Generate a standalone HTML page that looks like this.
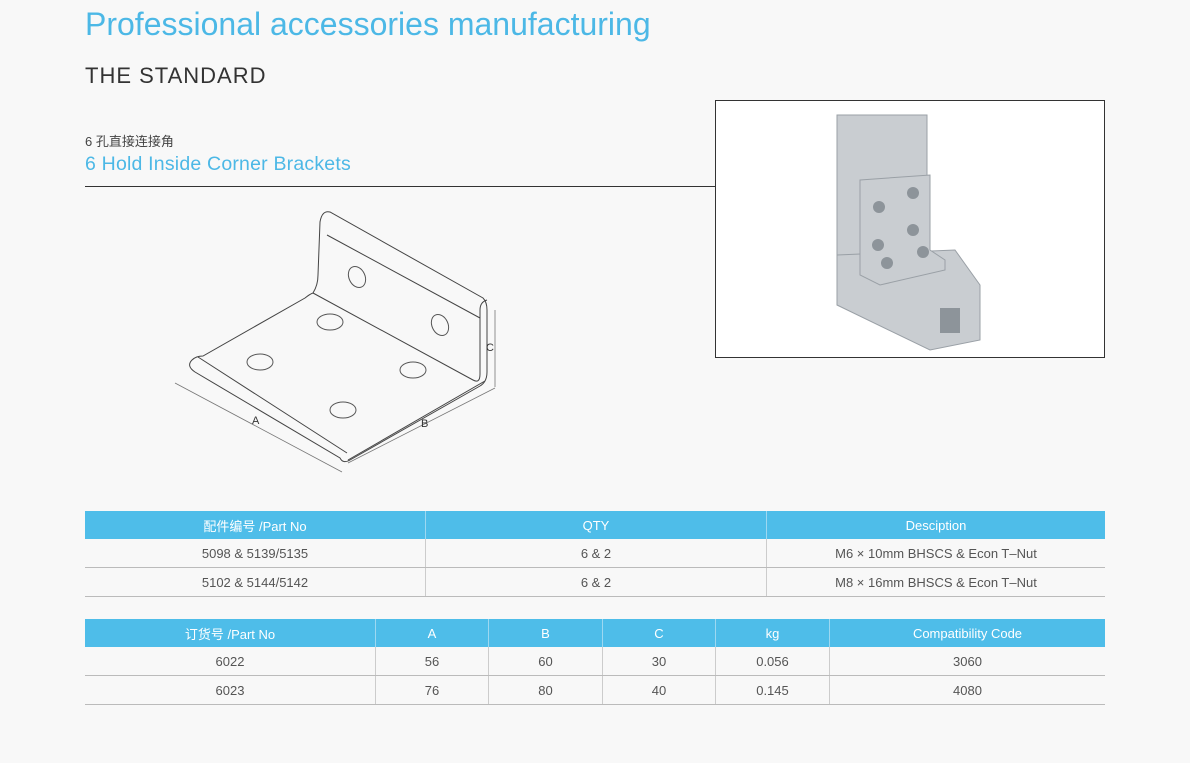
<!DOCTYPE html>
<html><head><meta charset="utf-8"><style>
body{margin:0;width:1190px;height:763px;background:#f8f8f8;font-family:"Liberation Sans","Noto Sans CJK SC",sans-serif;position:relative;overflow:hidden}
.a{position:absolute;white-space:nowrap}
table{position:absolute;left:85px;width:1020px;border-collapse:collapse;font-size:13px;color:#555}
td{height:28px;text-align:center;border-bottom:1px solid #bbb;padding:0}
td+td{border-left:1px solid #ccc}
tr.h td{background:#4ebde9;color:#fff;border-bottom:none;border-left-color:#9dd8f1}
</style></head><body>
<div class="a" style="left:85px;top:6px;font-size:32px;color:#4cb8e6">Professional accessories manufacturing</div>
<div class="a" style="left:85px;top:63px;font-size:22px;letter-spacing:1px;color:#333">THE STANDARD</div>
<div class="a" style="left:85px;top:131px;font-size:13px;color:#444">6 孔直接连接角</div>
<div class="a" style="left:85px;top:153px;font-size:19.5px;letter-spacing:0.2px;color:#4cb8e6">6 Hold Inside Corner Brackets</div>
<div class="a" style="left:85px;top:186px;width:631px;height:1px;background:#333"></div>
<div class="a" style="left:715px;top:100px;width:388px;height:256px;border:1px solid #333;background:#fff"></div>
<svg class="a" style="left:715px;top:100px" width="390" height="258">
<g fill="#c9cdd1" stroke="#9aa0a6" stroke-width="1">
<rect x="122" y="15" width="90" height="160"/>
<polygon points="122,155 240,150 265,185 265,240 215,250 122,205"/>
<polygon points="145,80 215,75 215,150 230,160 230,170 165,185 145,175"/>
</g>
<g fill="#8d949a"><circle cx="164" cy="107" r="6"/><circle cx="198" cy="93" r="6"/><circle cx="198" cy="130" r="6"/><circle cx="163" cy="145" r="6"/><circle cx="208" cy="152" r="6"/><circle cx="172" cy="163" r="6"/>
<rect x="225" y="208" width="20" height="25"/></g>
</svg>
<svg class="a" style="left:0;top:0" width="700" height="500" fill="none" stroke="#444" stroke-width="1">
<path d="M313,293 Q318,285 318,275 L320,222 Q322,210 330,212 L483,298 Q487,302 487,310 L487,372 Q487,382 480,386 L350,460 Q343,464 340,458 L195,372 Q186,366 192,360 Q196,356 203,356 L305,298 Q310,294 313,293 Z"/>
<path d="M198,357 L347,453 M313,293 L473,380 Q480,384 480,374 L480,310 Q480,302 487,300 M327,235 L480,318 M348,460 L485,381"/>
<g stroke="#555"><ellipse cx="357" cy="277" rx="8" ry="11" transform="rotate(-25 357 277)"/><ellipse cx="440" cy="325" rx="8" ry="11" transform="rotate(-25 440 325)"/>
<ellipse cx="330" cy="322" rx="13" ry="8"/><ellipse cx="260" cy="362" rx="13" ry="8"/><ellipse cx="413" cy="370" rx="13" ry="8"/><ellipse cx="343" cy="410" rx="13" ry="8"/></g>
<g stroke="#777" stroke-width=".8"><path d="M175,383 L342,472 M348,463 L495,388 M495,310 L495,387"/></g>
</svg>
<div class="a" style="left:252px;top:415px;font-size:11px;color:#333">A</div>
<div class="a" style="left:421px;top:418px;font-size:11px;color:#333">B</div>
<div class="a" style="left:486px;top:342px;font-size:11px;color:#333">C</div>
<table style="top:511px"><tr class="h"><td style="width:340px">配件编号 /Part No</td><td style="width:340px">QTY</td><td>Desciption</td></tr>
<tr><td>5098 &amp; 5139/5135</td><td>6 &amp; 2</td><td>M6 × 10mm BHSCS &amp; Econ T–Nut</td></tr>
<tr><td>5102 &amp; 5144/5142</td><td>6 &amp; 2</td><td>M8 × 16mm BHSCS &amp; Econ T–Nut</td></tr></table>
<table style="top:619px"><tr class="h"><td style="width:290px">订货号 /Part No</td><td style="width:112px">A</td><td style="width:113px">B</td><td style="width:112px">C</td><td style="width:113px">kg</td><td>Compatibility Code</td></tr>
<tr><td>6022</td><td>56</td><td>60</td><td>30</td><td>0.056</td><td>3060</td></tr>
<tr><td>6023</td><td>76</td><td>80</td><td>40</td><td>0.145</td><td>4080</td></tr></table>
</body></html>
